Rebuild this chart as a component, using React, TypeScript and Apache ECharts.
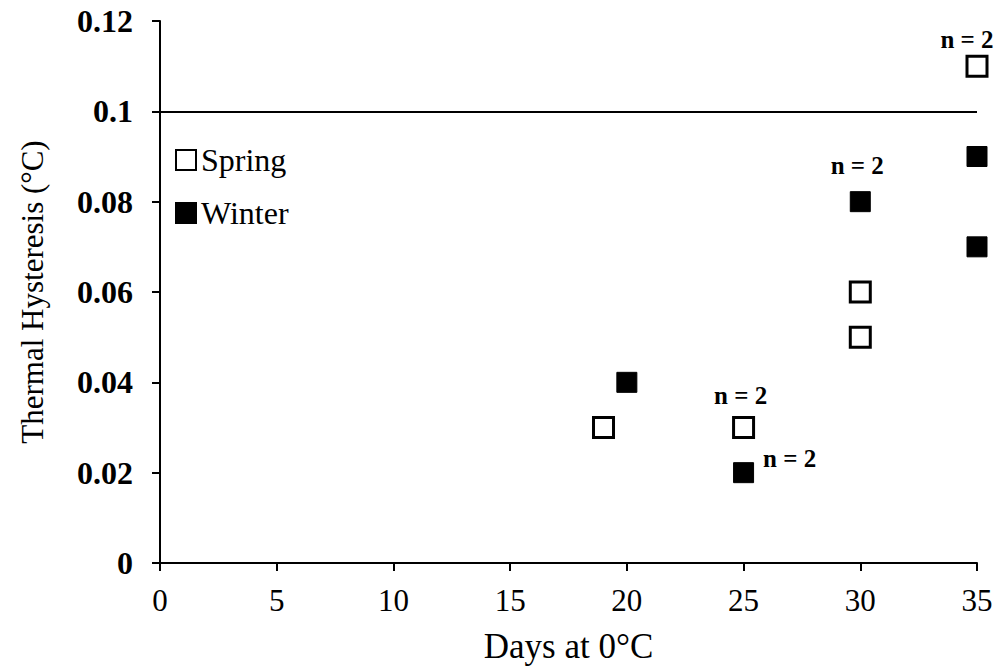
import React, { useEffect, useRef } from "react";
import * as echarts from "echarts";

const springDays = [19, 25, 30, 30, 35];
const springTH = [0.03, 0.03, 0.06, 0.05, 0.11];
const springNotes = ["", "n = 2", "", "", "n = 2"];

const winterDays = [20, 25, 30, 35, 35];
const winterTH = [0.04, 0.02, 0.08, 0.09, 0.07];
const winterNotes = ["", "n = 2", "n = 2", "", ""];

const referenceLine = 0.1;
const xTicks = { min: 0, max: 35, interval: 5 };
const yTicks = { min: 0, max: 0.12, interval: 0.02 };

const FONT = "'Liberation Serif', 'Times New Roman', serif";

const springOffsets: Record<number, [number, number]> = { 1: [-3, -32], 4: [-10, -27] };
const winterOffsets: Record<number, [number, number]> = { 1: [46, -14], 2: [-3, -36] };

function buildData(xs: number[], ys: number[], notes: string[], offsets: Record<number, [number, number]>) {
  return xs.map((x, i) => {
    const item: any = { value: [x, ys[i]] };
    if (notes[i]) {
      item.label = {
        show: true,
        formatter: notes[i],
        position: "inside",
        offset: offsets[i] || [0, -30],
        fontFamily: FONT,
        fontSize: 25,
        fontWeight: "bold",
        color: "#000",
      };
    }
    return item;
  });
}

export default function App() {
  const ref = useRef<HTMLDivElement>(null);
  useEffect(() => {
    if (!ref.current) return;
    const chart = echarts.init(ref.current, null, { renderer: "svg" });
    const axisCommon = {
      axisLine: { show: true, lineStyle: { color: "#000", width: 2 } },
      axisTick: { show: true, inside: false, length: 8, lineStyle: { color: "#000", width: 2 } },
      splitLine: { show: false },
      nameLocation: "middle" as const,
    };
    chart.setOption({
      animation: false,
      backgroundColor: "#fff",
      grid: { left: 160, right: 24, top: 21, bottom: 107, containLabel: false },
      legend: {
        orient: "vertical",
        left: 175,
        top: 144,
        padding: 0,
        itemWidth: 20,
        itemHeight: 20,
        itemGap: 21,
        icon: "rect",
        selectedMode: false,
        textStyle: { fontFamily: FONT, fontSize: 32, color: "#000", lineHeight: 32 },
        data: ["Spring", "Winter"],
      },
      xAxis: {
        type: "value",
        ...xTicks,
        ...axisCommon,
        name: "Days at 0°C",
        nameGap: 66,
        nameTextStyle: { fontFamily: FONT, fontSize: 35, color: "#000" },
        axisLabel: { fontFamily: FONT, fontSize: 31, color: "#000", margin: 22 },
      },
      yAxis: {
        type: "value",
        ...yTicks,
        ...axisCommon,
        name: "Thermal Hysteresis (°C)",
        nameGap: 112,
        nameRotate: 90,
        nameTextStyle: { fontFamily: FONT, fontSize: 31, color: "#000" },
        axisLabel: {
          fontFamily: FONT,
          fontSize: 32,
          fontWeight: "bold",
          color: "#000",
          margin: 27,
          formatter: (v: number) => String(+v.toFixed(2)),
        },
      },
      series: [
        {
          name: "Spring",
          type: "scatter",
          symbol: "rect",
          symbolSize: 20,
          itemStyle: { color: "#fff", borderColor: "#000", borderWidth: 3, opacity: 1 },
          data: buildData(springDays, springTH, springNotes, springOffsets),
          markLine: {
            silent: true,
            symbol: "none",
            label: { show: false },
            lineStyle: { color: "#000", width: 2, type: "solid", opacity: 1 },
            data: [{ yAxis: referenceLine }],
          },
          z: 3,
        },
        {
          name: "Winter",
          type: "scatter",
          symbol: "rect",
          symbolSize: 20,
          itemStyle: { color: "#000", borderColor: "#000", borderWidth: 1, opacity: 1 },
          data: buildData(winterDays, winterTH, winterNotes, winterOffsets),
          z: 3,
        },
      ],
    });
    return () => chart.dispose();
  }, []);
  return (
    <div
      ref={ref}
      style={{ position: "fixed", left: 0, top: 0, width: 1001, height: 670, background: "#fff" }}
    />
  );
}
